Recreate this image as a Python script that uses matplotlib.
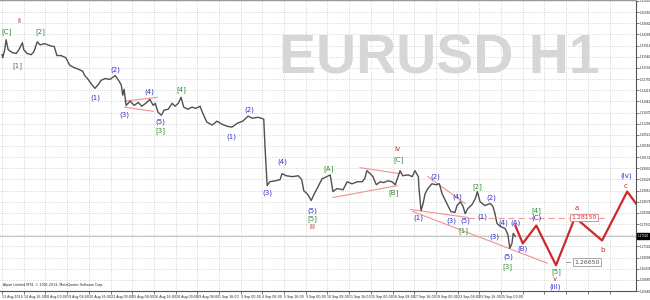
import matplotlib
matplotlib.use("Agg")
import matplotlib.pyplot as plt

# EURUSD H1, bar index (hours since 13 Aug 2014 08:00, weekends skipped) and price
bars = [0, 1, 4, 6, 9, 15, 21, 25, 30, 32, 37, 43, 47, 52, 56, 63, 71, 77, 81, 87,
        94, 100, 106, 114, 119, 122, 127, 131, 137, 142, 146, 152, 159, 167, 173, 176,
        178, 180, 183, 189, 195, 201, 206, 212, 218, 223, 226, 230, 235, 239, 245, 251,
        255, 260, 264, 268, 274, 280, 286, 292, 296, 302, 310, 317, 324, 332, 339, 347,
        355, 363, 369, 378, 386, 388, 391, 395, 403, 410, 413, 419, 428, 437, 442, 445,
        451, 456, 460, 466, 472, 479, 484, 488, 494, 503, 509, 516, 524, 531, 535, 538,
        543, 547, 552, 558, 563, 569, 575, 580, 584, 587, 591, 599, 605, 609, 614, 615,
        618, 621, 624, 628, 634, 640, 645, 649, 656, 662, 668, 671, 676, 680, 683, 687,
        693, 698, 701, 705, 712, 720, 724, 727, 730, 735, 742, 746, 749, 752, 754, 757]
prices = [1.3361, 1.3351, 1.3378, 1.3411, 1.3378, 1.3368, 1.3365, 1.3378, 1.3401, 1.3378,
          1.3365, 1.3361, 1.3371, 1.3404, 1.3394, 1.3398, 1.3391, 1.3388, 1.3358, 1.3358,
          1.3351, 1.3325, 1.3318, 1.3311, 1.3305, 1.3291, 1.3278, 1.3265, 1.3248, 1.3261,
          1.3275, 1.3281, 1.3278, 1.3291, 1.3271, 1.3258, 1.3225, 1.3245, 1.3191, 1.3205,
          1.3191, 1.3201, 1.3188, 1.3198, 1.3211, 1.3191, 1.3198, 1.3168, 1.3158, 1.3175,
          1.3178, 1.3198, 1.3188, 1.3198, 1.3218, 1.3185, 1.3178, 1.3185, 1.3181, 1.3188,
          1.3165, 1.3135, 1.3125, 1.3138, 1.3128, 1.3121, 1.3118, 1.3131, 1.3138, 1.3155,
          1.3148, 1.3151, 1.3145, 1.3045, 1.2922, 1.2935, 1.2938, 1.2942, 1.2962, 1.2955,
          1.2952, 1.2955, 1.2942, 1.2905, 1.2892, 1.2872, 1.2892, 1.2918, 1.2945, 1.2952,
          1.2958, 1.2902, 1.2912, 1.2908, 1.2935, 1.2928, 1.2935, 1.2935, 1.2945, 1.2972,
          1.2962, 1.2952, 1.2925, 1.2935, 1.2932, 1.2938, 1.2935, 1.2925, 1.2952, 1.2972,
          1.2955, 1.2958, 1.2952, 1.2972, 1.2952, 1.2912, 1.2838, 1.2862, 1.2895, 1.2912,
          1.2928, 1.2925, 1.2928, 1.2895, 1.2862, 1.2835, 1.2832, 1.2855, 1.2868, 1.2852,
          1.2828, 1.2845, 1.2858, 1.2878, 1.2902, 1.2868, 1.2855, 1.2862, 1.2852, 1.2828,
          1.2795, 1.2785, 1.2778, 1.2758, 1.2712, 1.2728, 1.2762, 1.2752]

# projected path (A)-(B)-(C)-[5]-a-b-c
proj_bars = [757, 768, 788, 817, 845, 885, 922, 935]
proj_prices = [1.2788, 1.2728, 1.2788, 1.2655, 1.2815, 1.2738, 1.2902, 1.2862]

# wave labels: text, bar, price
red_labels = [("ii", 25, 1.3474), ("iii", 457, 1.2782), ("iv", 583, 1.3045),
              ("v", 816, 1.2609), ("a", 848, 1.2848), ("b", 886, 1.2705), ("c", 920, 1.2922)]
green_labels = [("[C]", 7, 1.3438), ("[2]", 56, 1.3438), ("[1]", 22, 1.3325),
                ("[4]", 264, 1.3245), ("[3]", 233, 1.3108), ("[A]", 482, 1.2978),
                ("[B]", 577, 1.2898), ("[C]", 584, 1.3008), ("[5]", 457, 1.2812),
                ("[1]", 680, 1.2772), ("[2]", 701, 1.2918), ("[3]", 746, 1.2652),
                ("[4]", 788, 1.2838), ("[5]", 817, 1.2635)]
blue_labels = [("(1)", 137, 1.3218), ("(2)", 167, 1.3311), ("(3)", 181, 1.3158),
               ("(4)", 217, 1.3235), ("(5)", 233, 1.3135), ("(1)", 338, 1.3085),
               ("(2)", 364, 1.3175), ("(3)", 392, 1.2898), ("(4)", 413, 1.3002),
               ("(5)", 457, 1.2838), ("(1)", 614, 1.2815), ("(2)", 639, 1.2952),
               ("(4)", 671, 1.2885), ("(3)", 662, 1.2805), ("(5)", 683, 1.2805),
               ("(1)", 709, 1.2818), ("(2)", 721, 1.2882), ("(3)", 726, 1.2752),
               ("(4)", 740, 1.2798), ("(5)", 746, 1.2682), ("(A)", 757, 1.2798),
               ("(B)", 768, 1.2709), ("(C)", 788, 1.2815), ("(iii)", 816, 1.2582),
               ("(iv)", 920, 1.2955)]

# trend lines (bar0, price0, bar1, price1)
trend_lines = [(181, 1.3205, 229, 1.3218), (181, 1.3185, 223, 1.3171),
               (528, 1.2982, 587, 1.2962), (488, 1.2882, 583, 1.2922),
               (602, 1.2842, 687, 1.2815), (628, 1.2952, 683, 1.2862),
               (606, 1.2835, 804, 1.2662)]

level_a = 1.2815
level_v = 1.2665
last_price = 1.2752

date_labels = ["13 Aug 2014", "14 Aug 16:00", "18 Aug 00:00", "19 Aug 08:00", "20 Aug 16:00",
               "22 Aug 00:00", "25 Aug 08:00", "26 Aug 16:00", "28 Aug 00:00", "29 Aug 08:00",
               "1 Sep 16:00", "3 Sep 00:00", "4 Sep 08:00", "5 Sep 16:00", "9 Sep 00:00",
               "10 Sep 08:00", "11 Sep 16:00", "15 Sep 00:00", "16 Sep 08:00", "17 Sep 16:00",
               "19 Sep 00:00", "22 Sep 08:00", "23 Sep 16:00", "25 Sep 00:00",
               "", "", "", "", ""]
date_ticks = [i * 32 for i in range(len(date_labels))]
price_ticks = [1.35410 - k * 0.00374 for k in range(27)]

fig = plt.figure(figsize=(6.5, 3), dpi=100)
ax = fig.add_axes([0, 9 / 300, 636 / 650, 291 / 300])
ax.set_xlim(-3, 935)
ax.set_ylim(1.25753, 1.35443)

# watermark
fig.text(279 / 650, 1 - 73 / 300, "EURUSD H1", fontsize=40, fontweight="bold",
         family="Liberation Sans", color="#d6d6d6", ha="left", va="baseline", zorder=0)

price_labels = ["" if abs(p - last_price) < 0.0016 else "%.5f" % p for p in price_ticks]

ax.set_xticks(date_ticks)
ax.set_xticklabels(date_labels, fontsize=2.3, ha="left", color="#222222")
ax.set_yticks(price_ticks)
ax.set_yticklabels(price_labels, fontsize=2.0, color="#222222")
ax.yaxis.tick_right()
ax.tick_params(axis="both", length=2, width=0.5, pad=0.8, color="#444444")
ax.grid(True, linestyle=":", color="#c8c8c8", linewidth=0.6)
ax.set_axisbelow(True)
ax.spines["left"].set_visible(False)
for s in ["right", "bottom"]:
    ax.spines[s].set_color("#555555")
    ax.spines[s].set_linewidth(0.8)
ax.spines["top"].set_color("#999999")
ax.patch.set_alpha(0)

ax.axhline(last_price, color="#c8c8c8", lw=0.8, zorder=1)

for b0, p0, b1, p1 in trend_lines:
    ax.plot([b0, b1], [p0, p1], color="#f09090", lw=0.8, zorder=2)
ax.plot([687, 890], [level_a, level_a], color="#f0a0a0", lw=0.9, ls=(0, (5, 3)), zorder=2)
ax.plot([832, 838], [level_v, level_v], color="#888888", lw=0.6, zorder=2)

ax.plot(bars, prices, color="#505050", lw=1.0, zorder=3)
ax.plot(proj_bars, proj_prices, color="#cc2a2a", lw=1.6, zorder=3)

for t, b, p in red_labels:
    ax.text(b, p, t, color="#c03030", fontsize=5, ha="center", va="center", zorder=4)
for t, b, p in green_labels:
    ax.text(b, p, t, color="#2e8b2e", fontsize=5, ha="center", va="center", zorder=4)
for t, b, p in blue_labels:
    ax.text(b, p, t, color="#3030cc", fontsize=5, ha="center", va="center", zorder=4)

ax.text(839, level_a, "1.28150", color="#d03030", fontsize=4.5, ha="left", va="center", zorder=5,
        bbox=dict(boxstyle="square,pad=0.2", fc="white", ec="#e08080", lw=0.6))
ax.text(844, level_v, "1.26650", color="#555555", fontsize=4.5, ha="left", va="center", zorder=5,
        bbox=dict(boxstyle="square,pad=0.2", fc="white", ec="#999999", lw=0.6))

ax.text(937, last_price, "%.5f" % last_price, color="white", fontsize=2.0, ha="left",
        va="center", clip_on=False, zorder=6,
        bbox=dict(boxstyle="square,pad=0.3", fc="black", ec="black"))

ax.text(0.004, 0.015, "Alpari Limited MT4, \u00a9 2001-2013, MetaQuotes Software Corp.",
        transform=ax.transAxes, fontsize=2.3, color="#222222", ha="left", va="bottom")

fig.savefig("out.png", dpi=100)
